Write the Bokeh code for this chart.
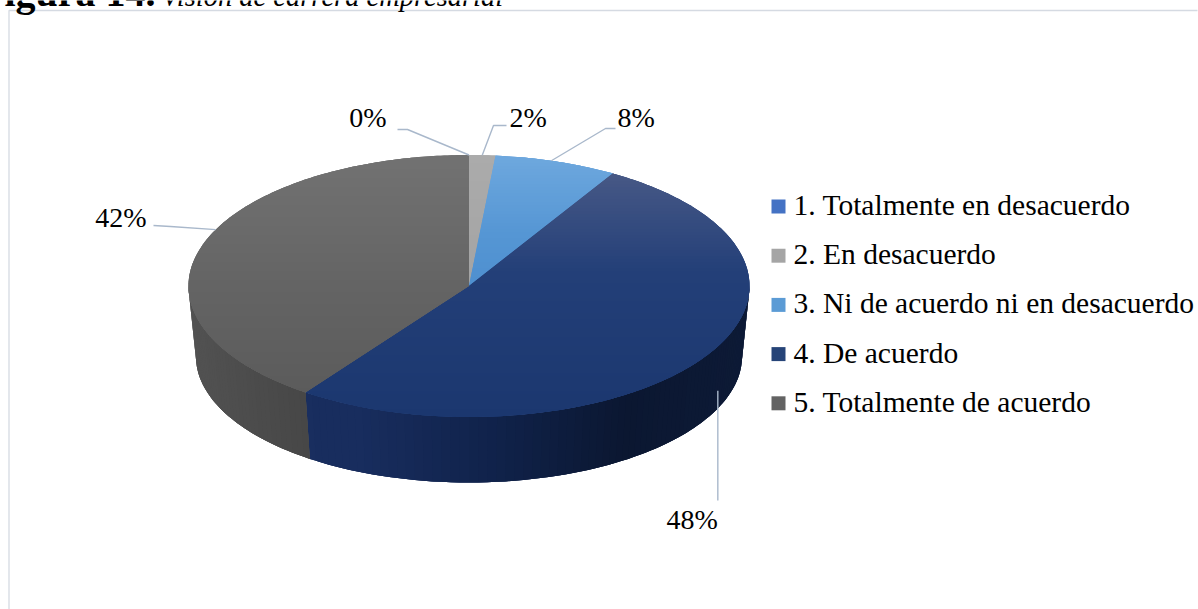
import math
from bokeh.plotting import figure
from bokeh.models import Range1d, ColumnDataSource
from bokeh.core.properties import value
from bokeh.embed import file_html
from bokeh.resources import INLINE

# ---------------- data ----------------
categories = [
    "1. Totalmente en desacuerdo",
    "2. En desacuerdo",
    "3. Ni de acuerdo ni en desacuerdo",
    "4. De acuerdo",
    "5. Totalmente de acuerdo",
]
counts = [0, 1, 4, 23, 20]
title_bold = "Figura 14."
title_italic = "Visión de carrera empresarial"

# ---------------- styles ----------------
legend_colors = ["#4472C4", "#A5A5A5", "#5B9BD5", "#264478", "#636363"]
top_stops = [
    [(0, "#5584d4"), (1, "#3a66b9")],
    [(0, "#ababab"), (1, "#9c9c9c")],
    [(0, "#6ea8de"), (0.3, "#5596d4"), (1, "#3d7fc4")],
    [(0, "#4f5d87"), (0.15, "#3f5383"), (0.45, "#233f78"), (1, "#1b376f")],
    [(0, "#727272"), (0.5, "#646464"), (1, "#595959")],
]
side_stops = [
    [(0, "#2a4d8f"), (1, "#1e3a6e")],
    [(0, "#7a7a7a"), (1, "#6a6a6a")],
    [(0, "#3f75ad"), (1, "#2f5f92")],
    [(0, "#1a2f60"), (0.3, "#182d5e"), (0.55, "#10224a"), (0.78, "#0b1731"), (1, "#0d1a36")],
    [(0, "#525252"), (0.22, "#464646"), (1, "#3a3a3a")],
]
FONT = "Liberation Serif"
LEADER = "#A9B8CB"
BASE_SHIFT = 0.355   # svg alphabetic-baseline correction, in em

# ---------------- layout ----------------
W, H = 1198, 609
CX, CY, RX, RY = 468.5, 285.5, 280.5, 131.0
BCX, BCY, BRX, BRY = 468.5, 356.0, 273.0, 126.0
PERSP = -0.28

def hex2rgb(h):
    h = h.lstrip("#")
    return tuple(int(h[i:i + 2], 16) for i in (0, 2, 4))

def grad(stops, t):
    t = max(0.0, min(1.0, t))
    for (t0, c0), (t1, c1) in zip(stops[:-1], stops[1:]):
        if t <= t1:
            f = 0 if t1 == t0 else (t - t0) / (t1 - t0)
            a, b = hex2rgb(c0), hex2rgb(c1)
            return "#%02x%02x%02x" % tuple(int(round(a[k] + (b[k] - a[k]) * f)) for k in range(3))
    return stops[-1][1]

def unit(theta_deg):
    t = math.radians(theta_deg)
    s, c = math.sin(t), math.cos(t)
    cx = c * (1 + PERSP * s)
    n = math.hypot(cx, s)
    return cx / n, s / n

def top_pt(th):
    c, s = unit(th)
    return (CX + RX * c, CY - RY * s)

def bot_pt(th):
    c, s = unit(th)
    return (BCX + BRX * c, BCY - BRY * s)

def clip(poly, yc, ge):
    out = []
    n = len(poly)
    for i in range(n):
        cur, prev = poly[i], poly[i - 1]
        cin = cur[1] >= yc if ge else cur[1] <= yc
        pin = prev[1] >= yc if ge else prev[1] <= yc
        if cin != pin:
            f = (yc - prev[1]) / (cur[1] - prev[1])
            out.append((prev[0] + (cur[0] - prev[0]) * f, yc))
        if cin:
            out.append(cur)
    return out

def base(y, size):
    return y - BASE_SHIFT * size

total = sum(counts)
fracs = [c / total for c in counts]
pct_labels = ["%d%%" % round(100 * f) for f in fracs]

starts, ends = [], []
acc = 0.0
for f in fracs:
    starts.append(90 - 360 * acc)
    acc += f
    ends.append(90 - 360 * acc)

p = figure(width=W, height=H, x_range=Range1d(0, W), y_range=Range1d(H, 0),
           output_backend="svg", toolbar_location=None,
           x_axis_type=None, y_axis_type=None, min_border=0)
p.grid.visible = False
p.outline_line_color = None
p.background_fill_color = "white"
p.border_fill_color = "white"

# ---- side faces (overlapping vertical strips) ----
base_x, base_y, base_c = [], [], []
sx, sy, sc = [], [], []
for i in range(len(counts)):
    a, b = starts[i], ends[i]
    lo, hi = b, a
    segs = []
    for k in range(-2, 2):
        f0, f1 = -180 + 360 * k, 0 + 360 * k
        l, h = max(lo, f0), min(hi, f1)
        if h > l:
            segs.append((l, h))
    for l, h in segs:
        n = max(2, int((h - l) / 1.5))
        ts = [l + (h - l) * j / n for j in range(n + 1)]
        tops = [top_pt(t) for t in ts]
        bots = [bot_pt(t) for t in ts]
        outline = tops + bots[::-1]
        base_x.append([q[0] for q in outline])
        base_y.append([q[1] for q in outline])
        base_c.append(grad(side_stops[i], 0.5))
        for j in range(n):
            j2 = min(n, j + 2)
            seg_t = tops[j:j2 + 1]
            seg_b = bots[j:j2 + 1][::-1]
            xm = (tops[j][0] + tops[j + 1][0]) / 2
            col = grad(side_stops[i], (xm - (CX - RX)) / (2 * RX))
            sx.append([q[0] for q in seg_t + seg_b])
            sy.append([q[1] for q in seg_t + seg_b])
            sc.append(col)
p.patches(base_x, base_y, fill_color=base_c, line_color=None)
p.patches(sx, sy, fill_color=sc, line_color=None)

# ---- top faces (overlapping horizontal gradient bands) ----
tbx, tby, tbc = [], [], []
tx, ty, tc = [], [], []
BAND = 3.0
for i in range(len(counts)):
    if counts[i] == 0:
        continue
    a, b = starts[i], ends[i]
    n = max(4, int((a - b) / 1.0))
    poly = [(CX, CY)] + [top_pt(a - (a - b) * j / n) for j in range(n + 1)]
    tbx.append([q[0] for q in poly])
    tby.append([q[1] for q in poly])
    tbc.append(grad(top_stops[i], 0.5))
    y = CY - RY - 1
    while y < CY + RY + 1:
        piece = clip(clip(poly, y, True), y + 2 * BAND, False)
        if len(piece) >= 3:
            col = grad(top_stops[i], (y + BAND / 2 - (CY - RY)) / (2 * RY))
            tx.append([q[0] for q in piece])
            ty.append([q[1] for q in piece])
            tc.append(col)
        y += BAND
p.patches(tbx, tby, fill_color=tbc, line_color=None)
p.patches(tx, ty, fill_color=tc, line_color=None)

# ---- data labels with leader lines ----
LBL = 28
label_layout = [
    dict(x=386, y=127, align="right", path=[(397, 129), (407, 129)], nudge=0),
    dict(x=509, y=127, align="left", path=[(506, 125), (493, 125)], nudge=0),
    dict(x=617, y=127, align="left", path=[(615, 128), (605, 128)], nudge=0),
    dict(x=None, y=529, align="right", path=None, drop=500, nudge=3),
    dict(x=146, y=227, align="right", path=[(153, 225), (170, 226)], nudge=-8),
]
lx, ly = [], []
for i, lay in enumerate(label_layout):
    m = (starts[i] + ends[i]) / 2 + lay["nudge"]
    ax, ay = top_pt(m)
    if math.sin(math.radians(m)) < 0:
        bx, by = bot_pt(m)
        ay = ay + 0.65 * (by - ay)
    if lay["path"] is None:
        lx.append([ax, ax])
        ly.append([ay, lay["drop"]])
        txt_x = ax
    else:
        pts = lay["path"] + [(ax, ay)]
        lx.append([q[0] for q in pts])
        ly.append([q[1] for q in pts])
        txt_x = lay["x"]
    p.text(x=[txt_x], y=[base(lay["y"], LBL)], text=[pct_labels[i]], text_align=lay["align"],
           text_baseline="alphabetic", text_font=value(FONT), text_font_size="%dpx" % LBL,
           text_color="#000000")
p.multi_line(lx, ly, line_color=LEADER, line_width=1.4)

# ---- legend ----
LEG = 29.5
LEG_X, LEG_Y0, LEG_DY = 778, 215, 49.2
leg = ColumnDataSource(dict(
    x=[LEG_X] * len(categories),
    y=[base(LEG_Y0 + LEG_DY * i, LEG) for i in range(len(categories))],
    ys=[LEG_Y0 - 9 + LEG_DY * i for i in range(len(categories))],
    tx=[LEG_X + 15] * len(categories),
    label=categories,
    color=legend_colors,
))
p.rect(x="x", y="ys", width=14, height=14, fill_color="color", line_color=None, source=leg)
p.text(x="tx", y="y", text="label", text_align="left", text_baseline="alphabetic",
       text_font=value(FONT), text_font_size="%spx" % LEG, text_color="#000000", source=leg)

# ---- frame border ----
p.line([8.5, 8.5, 1197], [H + 10, 10, 10], line_color="#D5DAE2", line_width=1.3)

# ---- title (cut by the top of the page, as in the reference) ----
p.text(x=[155], y=[base(6, 40)], text=[title_bold], text_align="right", text_baseline="alphabetic",
       text_font=value(FONT), text_font_size="40px", text_font_style="bold", text_color="#000000")
p.text(x=[161], y=[base(6, 28.5)], text=[title_italic], text_align="left", text_baseline="alphabetic",
       text_font=value(FONT), text_font_size="28.5px", text_font_style="italic", text_color="#000000")

open("out.html", "w").write(file_html(p, INLINE))
